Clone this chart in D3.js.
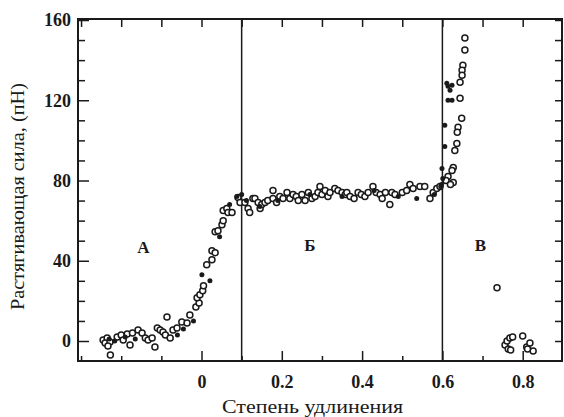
<!DOCTYPE html>
<html><head><meta charset="utf-8">
<script src="https://cdn.jsdelivr.net/npm/d3@7"></script>
<style>body{margin:0;background:#fff}svg{display:block}</style>
</head><body>
<svg id="c" width="564" height="417"></svg>
<script>
// ---- data ----
const xTickValues = [0, 0.2, 0.4, 0.6, 0.8];
const xTickLabels = ["0", "0.2", "0.4", "0.6", "0.8"];
const yTickValues = [0, 40, 80, 120, 160];
const yTickLabels = ["0", "40", "80", "120", "160"];
const regionBounds = [0.1, 0.6];
const regionLabels = ["А", "Б", "В"];
const regionLabelX = [-0.145, 0.27, 0.695];
const regionLabelY = [44, 45, 45];
const xTitle = "Степень удлинения";
const yTitle = "Растягивающая сила, (пН)";

const openX = [-0.245,-0.235,-0.240,-0.228,-0.233,-0.227,-0.21,-0.2,-0.195,-0.185,-0.178,-0.172,-0.158,-0.148,-0.14,-0.133,-0.123,-0.116,-0.11,-0.103,-0.096,-0.09,-0.078,-0.086,-0.071,-0.061,-0.049,-0.036,-0.029,-0.014,-0.006,-0.011,-0.004,0.003,0.005,0.013,0.026,0.026,0.034,0.034,0.041,0.051,0.054,0.054,0.063,0.066,0.076,0.091,0.096,
 0.108,0.116,0.12,0.128,0.133,0.141,0.146,0.15,0.158,0.165,0.178,0.178,0.187,0.195,0.203,0.213,0.22,0.228,0.236,0.241,0.25,0.258,0.266,0.275,0.283,0.29,0.295,0.3,0.308,0.315,0.32,0.332,0.34,0.35,0.358,0.362,0.37,0.38,0.39,0.398,0.407,0.415,0.427,0.435,0.445,0.45,0.458,0.469,0.474,0.482,0.5,0.511,0.519,0.527,0.544,0.556,0.569,0.577,0.586,0.594,
 0.656,0.656,0.651,0.649,0.649,0.644,0.644,0.648,0.639,0.637,0.636,0.631,0.627,0.624,0.614,0.627,0.609,0.62,
 0.736,0.756,0.761,0.768,0.775,0.764,0.77,0.8,0.81,0.818,0.826,0.812];
const openY = [0.5,1.5,-1,-0.5,-2.5,-7,2,3,0.5,3.5,-2,4,5.5,4,1.5,0.5,1.5,-3,6.5,5.5,4.5,3,1.5,12,5.5,6.5,9.5,9,13,17,19,21.5,23,25,27.5,38,40.5,45,44,54.5,55,58,60,65,66,64,64,71.5,69,
 69,66,64,71,71,69,66,68,69,70,75,71,69,72,71,74,71,73,72,70,73,70,74,71,72,74,77,73,75,72,74,76,75,74,73,74,72,71,74,73,72,74,77,74,73,71,74,68,74,73,74,75,78,76,77,77,71,74,76,77,
 151,145,137.5,135,132.5,129,121,111,106.5,104,98.5,95,86.5,85,82,79,80,78,
 26.5,-2,0,1.5,2,-4,-4.5,2.5,-3,-1,-5,-4];
const filledX = [-0.23,-0.216,-0.19,-0.165,-0.06,-0.045,-0.02,0.001,0.021,0.045,0.07,0.088,0.1,
 0.112,0.145,0.19,0.27,0.35,0.43,0.49,0.536,0.58,0.598,
 0.611,0.614,0.624,0.619,0.614,0.624,0.606,0.606,0.599,0.601,0.596];
const filledY = [1,0,2,1,3,6,10,33,30,52,68,72,73,
 70,67,70,73,72,75,72,71,73,78,
 128.5,127,127.5,125,120,120,107.5,97,86,81,77];

// ---- layout ----
const svg = d3.select("#c");
const ink = "#1a1a1a";
const x = d3.scaleLinear().domain([0, 0.8]).range([201.5, 522.7]);
const y = d3.scaleLinear().domain([0, 160]).range([341, 20]);
const L = 78, R = 562, T = 19, B = 361;
const yd = [y.invert(B), y.invert(T)];
const serif = "'Liberation Serif','DejaVu Serif',serif";

// frame
svg.append("rect").attr("x", L).attr("y", T).attr("width", R - L).attr("height", B - T)
  .attr("fill", "none").attr("stroke", ink).attr("stroke-width", 2);

// axes
function styleAxis(g) {
  g.select(".domain").remove();
  g.selectAll("line").attr("stroke", ink).attr("stroke-width", 1.5);
  g.selectAll("text").attr("fill", ink).attr("font-family", serif)
    .attr("font-weight", "bold").attr("font-size", 18);
}
const xMinor = [-0.3, -0.2, -0.1, 0.1, 0.3, 0.5, 0.7];
svg.append("g").attr("transform", `translate(0,${B})`)
  .call(d3.axisBottom(x).tickValues(xTickValues).tickSize(-10).tickPadding(14)
    .tickFormat((d, i) => xTickLabels[i])).call(styleAxis);
svg.append("g").attr("transform", `translate(0,${B})`)
  .call(d3.axisBottom(x).tickValues(xMinor).tickSize(-5).tickFormat("")).call(styleAxis);
svg.append("g").attr("transform", `translate(0,${T})`)
  .call(d3.axisTop(x).tickValues(xTickValues.concat(xMinor)).tickSize(-8).tickFormat("")).call(styleAxis);

const yMinor = d3.range(-10, 161, 10).filter(v => v % 40 !== 0 && v > yd[0]);
svg.append("g").attr("transform", `translate(${L},0)`)
  .call(d3.axisLeft(y).tickValues(yTickValues).tickSize(-11).tickPadding(7)
    .tickFormat((d, i) => yTickLabels[i])).call(styleAxis);
svg.append("g").attr("transform", `translate(${L},0)`)
  .call(d3.axisLeft(y).tickValues(yMinor).tickSize(-7).tickFormat("")).call(styleAxis);
svg.append("g").attr("transform", `translate(${R},0)`)
  .call(d3.axisRight(y).tickValues(d3.range(0, 161, 10)).tickSize(-7).tickFormat("")).call(styleAxis);

// region boundary lines
svg.selectAll(".vline").data(regionBounds).enter().append("line")
  .attr("x1", d => x(d)).attr("x2", d => x(d)).attr("y1", T).attr("y2", B)
  .attr("stroke", ink).attr("stroke-width", 1.5);

// region labels
svg.selectAll(".rl").data(regionLabels).enter().append("text")
  .attr("x", (d, i) => x(regionLabelX[i])).attr("y", (d, i) => y(regionLabelY[i]))
  .attr("text-anchor", "middle").attr("font-family", serif).attr("font-weight", "bold")
  .attr("font-size", 17).attr("fill", ink).text(d => d);

// points
const openPts = openX.map((v, i) => [v, openY[i]]);
const filledPts = filledX.map((v, i) => [v, filledY[i]]);
svg.append("g").selectAll("circle").data(openPts).enter().append("circle")
  .attr("cx", d => x(d[0])).attr("cy", d => y(d[1])).attr("r", 3)
  .attr("fill", "#fff").attr("stroke", ink).attr("stroke-width", 1.5);
svg.append("g").selectAll("circle").data(filledPts).enter().append("circle")
  .attr("cx", d => x(d[0])).attr("cy", d => y(d[1])).attr("r", 2.5)
  .attr("fill", ink);

// titles
svg.append("text").attr("x", 222).attr("y", 413)
  .attr("textLength", 181).attr("lengthAdjust", "spacingAndGlyphs")
  .attr("font-family", serif).attr("font-size", 18).attr("fill", ink).text(xTitle);
svg.append("text").attr("transform", "translate(24,310) rotate(-90)")
  .attr("textLength", 227).attr("lengthAdjust", "spacingAndGlyphs")
  .attr("font-family", serif).attr("font-size", 18).attr("fill", ink).text(yTitle);
</script>
</body></html>
